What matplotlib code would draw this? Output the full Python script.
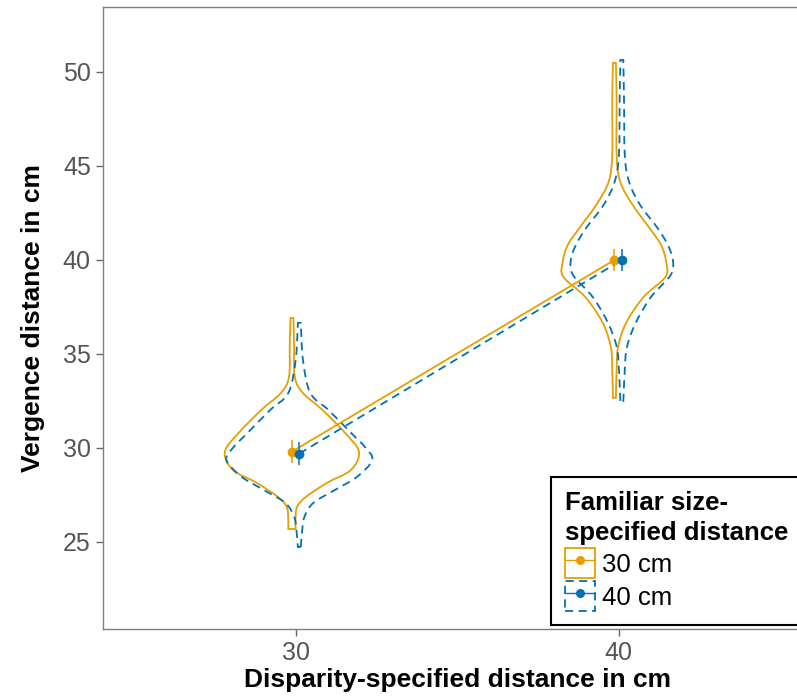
import numpy as np
import matplotlib
matplotlib.use("Agg")
import matplotlib.pyplot as plt
from matplotlib.path import Path
from matplotlib.patches import PathPatch, Patch
from matplotlib.lines import Line2D

plt.rcParams['font.family'] = ['Liberation Sans', 'DejaVu Sans']

# data
disparity = [30, 40]
groups = ['30 cm', '40 cm']
means = {'30 cm': [29.8, 40.0], '40 cm': [29.7, 40.0]}
errors = {'30 cm': [0.6, 0.6], '40 cm': [0.6, 0.6]}

# violin outlines: vergence values and relative density (max = 1)
v30_at30_y = [25.69, 26.17, 26.86, 27.39, 28.14, 28.83, 29.79, 30.80, 32.02, 32.93, 33.78, 35.48, 36.91]
v30_at30_d = [0.05, 0.05, 0.07, 0.19, 0.48, 0.81, 0.92, 0.73, 0.42, 0.15, 0.04, 0.03, 0.02]
v40_at30_y = [24.73, 25.64, 26.33, 27.07, 27.77, 28.46, 29.36, 30.05, 30.80, 32.02, 32.93, 34.68, 36.65]
v40_at30_d = [0.02, 0.04, 0.07, 0.19, 0.49, 0.79, 1.00, 0.90, 0.71, 0.40, 0.15, 0.05, 0.02]
v30_at40_y = [32.66, 34.15, 35.37, 36.65, 38.03, 39.10, 39.89, 40.80, 41.70, 42.93, 44.15, 45.59, 48.51, 50.48]
v30_at40_d = [0.02, 0.03, 0.05, 0.16, 0.40, 0.70, 0.71, 0.64, 0.48, 0.25, 0.08, 0.03, 0.03, 0.02]
v40_at40_y = [32.45, 34.15, 35.37, 36.65, 38.03, 39.20, 40.00, 40.80, 41.70, 42.93, 44.15, 45.59, 48.51, 50.64]
v40_at40_d = [0.02, 0.04, 0.07, 0.19, 0.40, 0.67, 0.70, 0.63, 0.49, 0.25, 0.10, 0.04, 0.03, 0.02]

violins = {
    '30 cm': [(v30_at30_y, v30_at30_d), (v30_at40_y, v30_at40_d)],
    '40 cm': [(v40_at30_y, v40_at30_d), (v40_at40_y, v40_at40_d)],
}

colors = {'30 cm': '#E69F00', '40 cm': '#0072B2'}
styles = {'30 cm': '-', '40 cm': (0, (4.5, 3))}
dodge = {'30 cm': -0.013, '40 cm': 0.010}
half_max = 0.226
lw = 1.3


def bezier_side(pts):
    # catmull-rom through the points, as cubic bezier segments
    p = np.vstack([pts[0], pts, pts[-1]])
    verts = []
    for i in range(1, len(p) - 2):
        c1 = p[i] + (p[i + 1] - p[i - 1]) / 6
        c2 = p[i + 1] - (p[i + 2] - p[i]) / 6
        verts += [c1, c2, p[i + 1]]
    return verts


def violin_path(center, ys, dens):
    ys = np.asarray(ys)
    w = np.asarray(dens) * half_max
    right = np.column_stack([center + w, ys])
    left = np.column_stack([center - w, ys])[::-1]
    verts = [right[0]] + bezier_side(right) + [left[0]] + bezier_side(left) + [right[0]]
    codes = ([Path.MOVETO] + [Path.CURVE4] * (3 * (len(ys) - 1)) + [Path.LINETO]
             + [Path.CURVE4] * (3 * (len(ys) - 1)) + [Path.CLOSEPOLY])
    return Path(verts, codes)


fig = plt.figure(figsize=(7.97, 6.96), dpi=100)
ax = fig.add_axes([0.1287, 0.0963, 0.8903, 0.8937])

xpos = np.arange(1, len(disparity) + 1)
for g in groups:
    for i, (ys, dens) in enumerate(violins[g]):
        ax.add_patch(PathPatch(violin_path(xpos[i] + dodge[g], ys, dens), facecolor='none',
                               edgecolor=colors[g], lw=lw, linestyle=styles[g]))
for g in groups:
    xs = xpos + dodge[g]
    ax.plot(xs, means[g], color=colors[g], lw=lw, linestyle=styles[g])
    ax.errorbar(xs, means[g], yerr=errors[g], fmt='o', color=colors[g], ms=6,
                elinewidth=1.1, capsize=0)

ax.set_xlim(0.4, 2.6)
ax.set_ylim(20.37, 53.46)
ax.set_xticks(xpos)
ax.set_xticklabels([str(d) for d in disparity])
ax.set_yticks([25, 30, 35, 40, 45, 50])
ax.tick_params(colors='#666666', labelsize=18, length=5, width=1.0, labelcolor='#555555', pad=3.5)
for s in ax.spines.values():
    s.set_color('#7F7F7F')
    s.set_linewidth(1.0)
ax.set_xlabel('Disparity-specified distance in cm', fontsize=19, fontweight='bold', labelpad=2)
ax.set_ylabel('Vergence distance in cm', fontsize=19, fontweight='bold', labelpad=13)

handles = []
for g in groups:
    box = Patch(facecolor='white', edgecolor=colors[g], lw=lw, linestyle=styles[g])
    pt = Line2D([], [], color=colors[g], lw=1.0, marker='o', ms=5.5)
    handles.append((box, pt))
leg = fig.legend(handles, groups, title='Familiar size-\nspecified distance',
                 loc='lower left', bbox_to_anchor=(551 / 797, 1 - 625 / 696),
                 borderaxespad=0,
                 fontsize=18.5, title_fontproperties={'weight': 'bold', 'size': 18.5},
                 frameon=True, fancybox=False, edgecolor='black', framealpha=1,
                 handlelength=1.17, handleheight=1.4, handletextpad=0.27,
                 labelspacing=0.12, borderpad=0.55, alignment='left')
leg.get_title().set_linespacing(1.35)
leg.get_frame().set_linewidth(1.5)

fig.savefig('out.png', dpi=100)
